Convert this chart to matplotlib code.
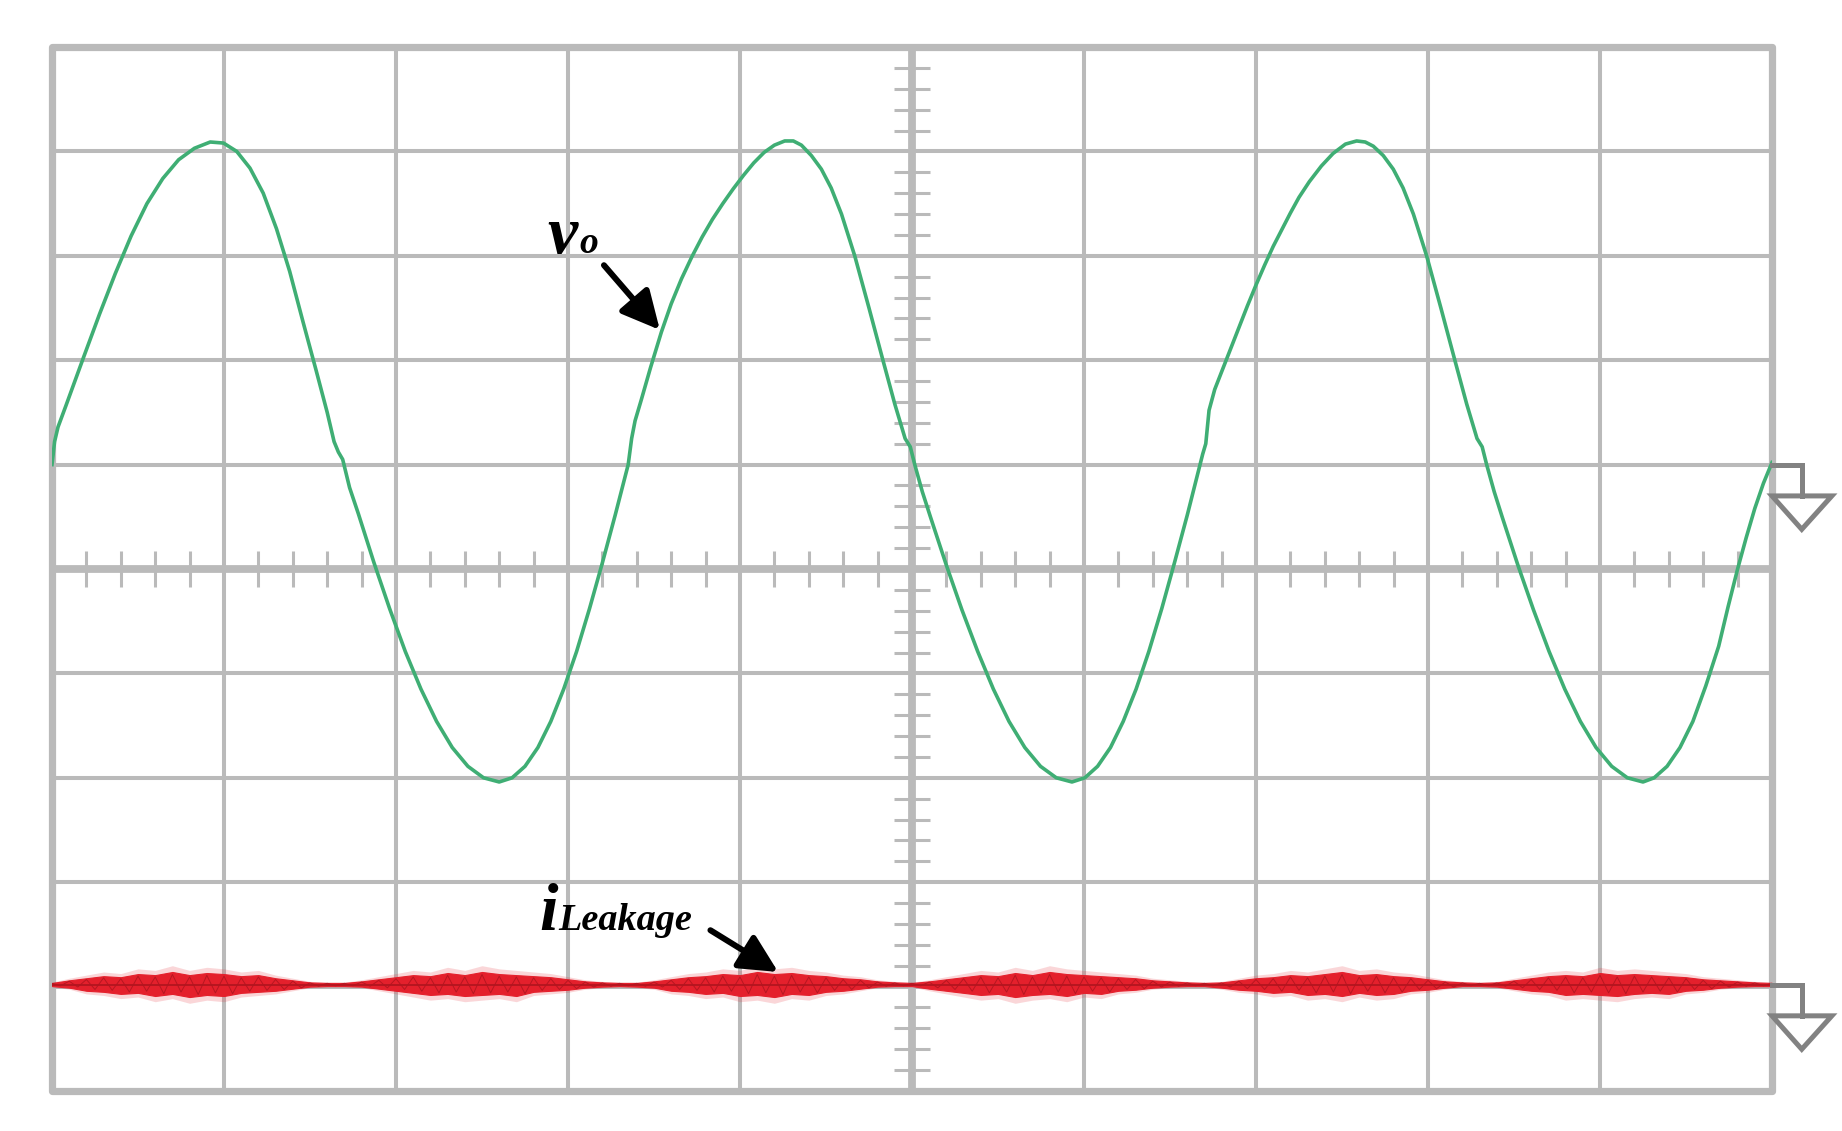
import numpy as np
import matplotlib
matplotlib.use('Agg')
import matplotlib.pyplot as plt
from matplotlib.patches import Rectangle, Polygon

# screen is 10 x 10 divisions, centre at (0, 0)
# v_o trace (green) in divisions
vo_x = [-5.00, -4.985, -4.965, -4.92, -4.876, -4.816, -4.724, -4.632, -4.54, -4.448,
        -4.356, -4.264, -4.172, -4.08, -4.003, -3.926, -3.849, -3.772, -3.695, -3.618,
        -3.541, -3.464, -3.40, -3.36, -3.335, -3.31, -3.27, -3.219, -3.128, -3.037,
        -2.946, -2.855, -2.764, -2.673, -2.582, -2.491, -2.40, -2.325, -2.25, -2.175,
        -2.10, -2.025, -1.95, -1.875, -1.80, -1.725, -1.65, -1.63, -1.61, -1.574,
        -1.52, -1.457, -1.40, -1.34, -1.28, -1.22, -1.16, -1.10, -1.04, -0.98,
        -0.92, -0.86, -0.80, -0.74, -0.69, -0.643, -0.585, -0.527, -0.47, -0.41,
        -0.333, -0.25, -0.169, -0.10, -0.04, -0.01, 0.016, 0.06, 0.107, 0.199,
        0.290, 0.382, 0.473, 0.564, 0.656, 0.747, 0.839, 0.93, 1.005, 1.079,
        1.154, 1.228, 1.303, 1.377, 1.452, 1.526, 1.601, 1.675, 1.69, 1.708,
        1.727, 1.76, 1.805, 1.85, 1.90, 1.95, 2.00, 2.05, 2.10, 2.15,
        2.20, 2.25, 2.31, 2.38, 2.448, 2.52, 2.585, 2.635, 2.682, 2.74,
        2.798, 2.855, 2.915, 2.992, 3.075, 3.156, 3.225, 3.285, 3.315, 3.341,
        3.385, 3.431, 3.522, 3.613, 3.704, 3.795, 3.886, 3.977, 4.068, 4.159,
        4.25, 4.315, 4.39, 4.465, 4.54, 4.615, 4.69, 4.745, 4.80, 4.85,
        4.90, 4.95, 5.00]
vo_y = [1.00, 1.22, 1.36, 1.56, 1.76, 2.03, 2.44, 2.83, 3.19, 3.50,
        3.74, 3.92, 4.03, 4.09, 4.08, 4.00, 3.84, 3.60, 3.26, 2.85,
        2.37, 1.90, 1.50, 1.22, 1.12, 1.05, 0.78, 0.53, 0.06, -0.38,
        -0.79, -1.15, -1.46, -1.71, -1.89, -2.00, -2.04, -2.00, -1.89, -1.71,
        -1.46, -1.15, -0.79, -0.38, 0.06, 0.52, 1.00, 1.25, 1.42, 1.62,
        1.93, 2.27, 2.54, 2.78, 2.99, 3.18, 3.35, 3.50, 3.64, 3.77,
        3.89, 3.99, 4.06, 4.10, 4.10, 4.06, 3.96, 3.83, 3.65, 3.40,
        3.00, 2.50, 2.00, 1.58, 1.25, 1.17, 1.00, 0.74, 0.50, 0.04,
        -0.39, -0.79, -1.15, -1.46, -1.71, -1.89, -2.00, -2.04, -2.00, -1.89,
        -1.71, -1.46, -1.15, -0.79, -0.38, 0.06, 0.52, 1.00, 1.10, 1.20,
        1.52, 1.72, 1.91, 2.10, 2.31, 2.52, 2.72, 2.91, 3.09, 3.25,
        3.41, 3.56, 3.71, 3.86, 3.98, 4.07, 4.10, 4.09, 4.05, 3.96,
        3.83, 3.65, 3.40, 3.00, 2.50, 2.00, 1.58, 1.25, 1.17, 1.00,
        0.74, 0.50, 0.04, -0.39, -0.79, -1.15, -1.46, -1.71, -1.89, -2.00,
        -2.04, -2.00, -1.89, -1.71, -1.46, -1.12, -0.74, -0.36, 0.00, 0.30,
        0.58, 0.82, 1.02]

# i_Leakage trace (red): noise band around its ground level,
# upper / lower half widths in divisions, one every 0.1 div from -5 to 5
il_x = np.linspace(-5, 5, 101)
il_up = [0.015, 0.04, 0.06, 0.08, 0.07, 0.10, 0.09, 0.12, 0.09, 0.11,
         0.10, 0.08, 0.09, 0.06, 0.04, 0.02, 0.015, 0.015, 0.03, 0.05,
         0.07, 0.09, 0.08, 0.11, 0.09, 0.12, 0.10, 0.09, 0.08, 0.07,
         0.05, 0.03, 0.02, 0.015, 0.015, 0.03, 0.05, 0.07, 0.08, 0.10,
         0.09, 0.12, 0.10, 0.11, 0.09, 0.08, 0.06, 0.05, 0.03, 0.02,
         0.015, 0.03, 0.05, 0.07, 0.09, 0.08, 0.11, 0.09, 0.12, 0.10,
         0.09, 0.08, 0.07, 0.06, 0.04, 0.03, 0.02, 0.015, 0.02, 0.04,
         0.06, 0.07, 0.09, 0.08, 0.10, 0.12, 0.09, 0.10, 0.08, 0.07,
         0.05, 0.03, 0.02, 0.015, 0.02, 0.04, 0.06, 0.08, 0.09, 0.08,
         0.11, 0.09, 0.10, 0.09, 0.08, 0.07, 0.05, 0.04, 0.03, 0.02,
         0.015]
il_dn = [0.015, 0.03, 0.06, 0.07, 0.09, 0.08, 0.11, 0.09, 0.12, 0.10,
         0.11, 0.08, 0.07, 0.06, 0.04, 0.02, 0.015, 0.015, 0.02, 0.04,
         0.06, 0.08, 0.10, 0.09, 0.11, 0.10, 0.09, 0.11, 0.07, 0.06,
         0.05, 0.03, 0.02, 0.015, 0.02, 0.03, 0.06, 0.07, 0.09, 0.08,
         0.11, 0.10, 0.12, 0.09, 0.10, 0.07, 0.06, 0.04, 0.02, 0.015,
         0.015, 0.04, 0.06, 0.08, 0.10, 0.09, 0.12, 0.10, 0.09, 0.11,
         0.08, 0.09, 0.06, 0.05, 0.03, 0.02, 0.015, 0.015, 0.03, 0.05,
         0.06, 0.08, 0.07, 0.10, 0.09, 0.11, 0.08, 0.10, 0.09, 0.06,
         0.05, 0.03, 0.015, 0.015, 0.02, 0.04, 0.06, 0.07, 0.10, 0.09,
         0.10, 0.11, 0.09, 0.08, 0.09, 0.06, 0.05, 0.03, 0.02, 0.015,
         0.015]

vo_ground = 1.0
il_ground = -3.98

grid_c = '#bababa'
green = '#3fae74'
red = '#e4202c'
marker_c = '#828282'

fig = plt.figure(figsize=(18.42, 11.31), dpi=100)
ax = fig.add_axes([52 / 1842, 40 / 1131, 1720 / 1842, 1044 / 1131])
ax.set_xlim(-5, 5)
ax.set_ylim(-5, 5)
ax.axis('off')

# graticule
for k in range(-4, 5):
    if k == 0:
        continue
    ax.axvline(k, color=grid_c, lw=2.9, zorder=1)
    ax.axhline(k, color=grid_c, lw=2.9, zorder=1)
ax.axvline(0, color=grid_c, lw=5.6, zorder=1)
ax.axhline(0, color=grid_c, lw=5.6, zorder=1)
minor = [i * 0.2 for i in range(-24, 25) if i % 5 != 0]
ax.vlines(minor, -0.172, 0.172, color=grid_c, lw=2.2, zorder=1)
ax.hlines(minor, -0.104, 0.104, color=grid_c, lw=2.2, zorder=1)
ax.add_patch(Rectangle((-5, -5), 10, 10, fill=False, ec=grid_c, lw=5.2,
                       joinstyle='round', clip_on=False, zorder=2))

# leakage current band: light halo, solid band, darker noise flecks
up = np.array(il_up)
dn = np.array(il_dn)
ax.fill_between(il_x, il_ground - 1.5 * dn, il_ground + 1.5 * up,
                color=red, alpha=0.18, lw=0, zorder=3)
ax.fill_between(il_x, il_ground - dn, il_ground + up, color=red, lw=0.8, zorder=4)
zig_x = np.ravel(np.column_stack([il_x, il_x + 0.05]))[:-1]
zig_y = np.ravel(np.column_stack([il_ground + 0.8 * up, il_ground - 0.8 * dn]))[:-1]
ax.plot(zig_x, zig_y, color='#a3121c', lw=0.7, alpha=0.7, zorder=4)
ax.plot(il_x, np.full(len(il_x), il_ground), color='#b3151f', lw=1.3, zorder=4)

# output voltage
ax.plot(vo_x, vo_y, color=green, lw=2.6, zorder=5, solid_joinstyle='round')

# ground markers at the right edge
for lvl in (vo_ground, il_ground):
    ax.plot([5.0, 5.173, 5.173], [lvl, lvl, lvl - 0.3], color=marker_c, lw=3.6,
            clip_on=False, zorder=6, solid_joinstyle='miter')
    ax.add_patch(Polygon([[5.0, lvl - 0.3], [5.348, lvl - 0.3], [5.173, lvl - 0.62]],
                         closed=True, fill=False, ec=marker_c, lw=3.6,
                         clip_on=False, zorder=6))

# labels
lab = dict(family='Liberation Serif', style='italic', weight='bold',
           va='baseline', ha='left', color='black', zorder=7)
ax.text(-2.122, 3.03, 'v', fontsize=49, **lab)
ax.text(-1.931, 3.03, 'o', fontsize=27, **lab)
ax.text(-2.165, -3.46, 'i', fontsize=48, **lab)
ax.text(-2.055, -3.46, 'Leakage', fontsize=27.5, **lab)

arrow = dict(arrowstyle='-|>', lw=4.3, color='black', mutation_scale=58,
             shrinkA=0, shrinkB=0)
ax.annotate('', xy=(-1.466, 2.29), xytext=(-1.791, 2.91), arrowprops=arrow, zorder=7)
ax.annotate('', xy=(-0.778, -3.86), xytext=(-1.172, -3.46), arrowprops=arrow, zorder=7)

fig.savefig('out.png', dpi=100, facecolor='white')
